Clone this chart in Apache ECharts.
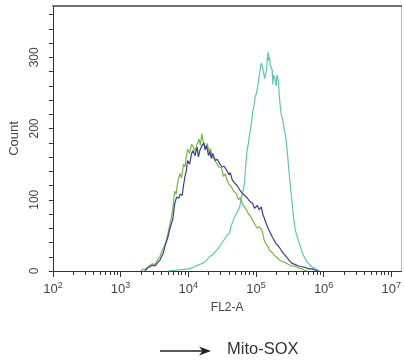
<!DOCTYPE html>
<html><head><meta charset="utf-8">
<script src="https://cdn.jsdelivr.net/npm/echarts@6/dist/echarts.min.js"></script>
<style>html,body{margin:0;padding:0;background:#fff}#c{width:404px;height:364px}</style>
</head><body><div id="c"></div>
<script>
// x values are log10(FL2-A)
const greenX = [3.30,3.34,3.38,3.42,3.47,3.51,3.55,3.58,3.62,3.66,3.69,3.72,3.75,3.77,3.80,3.82,3.85,3.88,3.90,3.93,3.95,3.97,3.99,4.02,4.05,4.07,4.10,4.13,4.16,4.18,4.20,4.22,4.24,4.26,4.28,4.31,4.33,4.35,4.38,4.42,4.45,4.49,4.52,4.55,4.57,4.60,4.64,4.67,4.71,4.74,4.77,4.80,4.83,4.86,4.89,4.92,4.95,4.98,5.02,5.05,5.09,5.12,5.15,5.18,5.20,5.24,5.27,5.30,5.35,5.40,5.45,5.50,5.55,5.59,5.64,5.68,5.72,5.76];
const greenY = [0,3,2,7,10,9,16,20,30,38,48,62,75,86,112,108,128,137,130,150,146,160,171,165,178,175,168,178,185,176,193,182,180,172,179,166,172,160,158,151,146,145,133,136,128,122,118,112,109,100,103,94,90,86,80,77,71,66,60,62,57,44,38,34,29,26,22,20,15,13,11,8,7,6,4,3,1,0];
const blueX = [3.36,3.39,3.43,3.47,3.51,3.54,3.58,3.61,3.63,3.66,3.70,3.73,3.75,3.77,3.80,3.83,3.86,3.88,3.91,3.93,3.95,3.97,3.99,4.02,4.05,4.07,4.10,4.13,4.15,4.17,4.20,4.23,4.25,4.27,4.30,4.32,4.34,4.36,4.40,4.43,4.46,4.50,4.53,4.57,4.60,4.62,4.65,4.68,4.72,4.76,4.79,4.82,4.86,4.89,4.92,4.95,4.98,5.02,5.05,5.08,5.10,5.12,5.15,5.18,5.21,5.24,5.27,5.30,5.34,5.38,5.42,5.45,5.49,5.53,5.58,5.63,5.68,5.73,5.78,5.83,5.88,5.92];
const blueY = [0,4,6,8,7,11,15,21,25,36,48,60,62,72,95,104,102,108,106,120,132,140,155,150,165,169,162,174,160,169,175,180,170,176,162,168,158,165,155,157,151,146,147,141,135,138,128,124,120,114,110,107,104,100,97,95,88,92,86,90,80,75,67,60,54,48,43,38,34,28,23,20,15,11,9,7,6,5,3,3,1,0];
const tealX = [3.70,3.78,3.83,3.88,3.93,3.98,4.02,4.06,4.10,4.13,4.17,4.21,4.24,4.28,4.31,4.35,4.39,4.42,4.46,4.50,4.54,4.57,4.61,4.63,4.66,4.68,4.71,4.74,4.76,4.79,4.81,4.83,4.85,4.87,4.89,4.90,4.93,4.95,4.97,4.99,5.01,5.03,5.05,5.07,5.08,5.10,5.11,5.13,5.14,5.16,5.17,5.18,5.19,5.20,5.21,5.23,5.24,5.25,5.26,5.28,5.30,5.31,5.33,5.34,5.35,5.37,5.40,5.42,5.44,5.45,5.47,5.49,5.51,5.53,5.56,5.58,5.61,5.64,5.67,5.70,5.74,5.78,5.82,5.86,5.90,5.94];
const tealY = [0,1,1,2,2,3,3,5,6,8,9,11,12,16,20,22,26,29,34,40,45,50,53,62,70,75,80,86,90,105,112,123,150,170,180,188,205,222,232,245,250,262,275,288,292,285,280,270,268,285,300,307,295,300,290,285,282,262,275,270,260,275,268,270,240,222,210,198,188,180,160,138,118,100,72,58,48,39,30,22,15,10,6,4,2,0];
const xMajor = [2,3,4,5,6,7];
const yTicks = [0,20,40,60,80,100,120,140,160,180,200,220,240,260,280,300,320,340,360];
const yLabels = [0,100,200,300];

const xMinor = [];
for (let d = 2; d < 7; d++) for (let k = 2; k <= 9; k++) xMinor.push(d + Math.log10(k));
const zip = (a,b) => a.map((v,i)=>[v,b[i]]);

const chart = echarts.init(document.getElementById('c'), null, {renderer:'canvas'});
const axisCol = '#333';
const txt = '#444';
chart.setOption({
  animation:false,
  grid:{left:52, top:6, right:1, bottom:93},
  xAxis:[
    {type:'value', min:2, max:7.15, position:'bottom',
     axisLine:{lineStyle:{color:axisCol, width:1}},
     axisTick:{customValues:xMajor, length:6, lineStyle:{color:axisCol}},
     axisLabel:{customValues:xMajor, margin:10, color:txt,
       formatter:v=>'{b|10}{s|'+Math.round(v)+'}',
       rich:{b:{fontSize:13, fontFamily:'Liberation Sans', color:txt},
             s:{fontSize:9, fontFamily:'Liberation Sans', color:txt, verticalAlign:'top', padding:[0,0,8,0]}}},
     splitLine:{show:false},
     name:'FL2-A', nameLocation:'middle', nameGap:31,
     nameTextStyle:{fontSize:12, fontFamily:'Liberation Sans', color:txt}},
    {type:'value', min:2, max:7.15, position:'bottom',
     axisLine:{show:false},
     axisTick:{customValues:xMinor, length:4, lineStyle:{color:axisCol}},
     axisLabel:{show:false}, splitLine:{show:false}},
    {type:'value', min:2, max:7.15, position:'top',
     axisLine:{lineStyle:{color:'#444', width:1.5}},
     axisTick:{show:false}, axisLabel:{show:false}, splitLine:{show:false}}
  ],
  yAxis:[
    {type:'value', min:0, max:372,
     axisLine:{show:true, lineStyle:{color:axisCol}},
     axisTick:{show:true, customValues:yTicks, length:4, lineStyle:{color:axisCol}},
     axisLabel:{customValues:yLabels, rotate:90, margin:12, fontSize:12, fontFamily:'Liberation Sans', color:txt},
     splitLine:{show:false},
     name:'Count', nameLocation:'middle', nameRotate:90, nameGap:27,
     nameTextStyle:{fontSize:13, fontFamily:'Liberation Sans', color:txt}},
    {type:'value', min:0, max:372, position:'right',
     axisLine:{show:true, lineStyle:{color:'#bbb'}},
     axisTick:{show:false}, axisLabel:{show:false}, splitLine:{show:false}}
  ],
  series:[
    {type:'line', data:zip(tealX,tealY), showSymbol:false, lineStyle:{color:'#5cc7b6', width:1.2}},
    {type:'line', data:zip(greenX,greenY), showSymbol:false, lineStyle:{color:'#76b83c', width:1.2}},
    {type:'line', data:zip(blueX,blueY), showSymbol:false, lineStyle:{color:'#3a3e98', width:1.2}}
  ],
  graphic:[
    {type:'line', shape:{x1:160, y1:351, x2:206, y2:351}, style:{stroke:'#222', lineWidth:1.5}},
    {type:'polygon', shape:{points:[[211,351],[199,346.5],[202.5,351],[199,355.5]]}, style:{fill:'#222'}},
    {type:'text', left:227, top:341, style:{text:'Mito-SOX', fontSize:16.5, fontFamily:'Liberation Sans', fill:'#333'}}
  ]
});
</script></body></html>
